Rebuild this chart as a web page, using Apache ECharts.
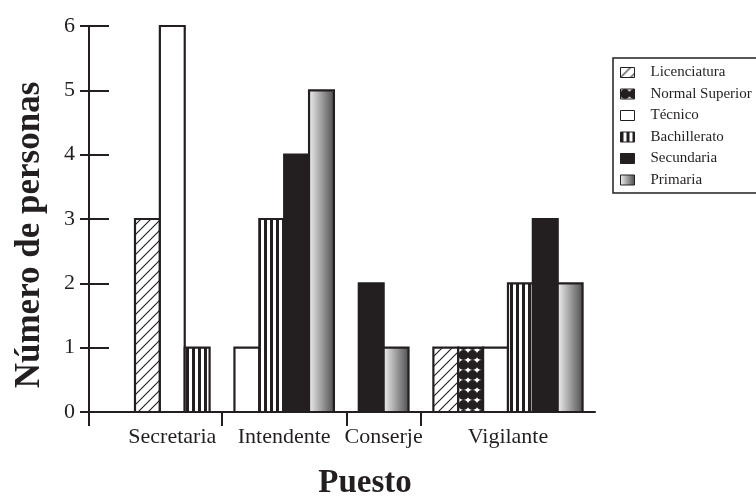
<!DOCTYPE html>
<html>
<head>
<meta charset="utf-8">
<script src="https://cdn.jsdelivr.net/npm/echarts@6/dist/echarts.min.js"></script>
<style>
  html, body { margin: 0; padding: 0; background: #fff; overflow: hidden; }
  #chart { width: 756px; height: 497px; }
</style>
</head>
<body>
<div id="chart"></div>
<script>
// Puestos (categorías del eje X) y niveles de escolaridad (series)
const categories = ['Secretaria', 'Intendente', 'Conserje', 'Vigilante'];
const levels = ['Licenciatura', 'Normal Superior', 'Técnico', 'Bachillerato', 'Secundaria', 'Primaria'];

// Número de personas por puesto, una lista por nivel
const licenciatura   = [3, 0, 0, 1];
const normalSuperior = [0, 0, 0, 1];
const tecnico        = [6, 1, 0, 1];
const bachillerato   = [1, 3, 0, 2];
const secundaria     = [0, 4, 2, 3];
const primaria       = [0, 5, 1, 2];

const yTicks = [0, 1, 2, 3, 4, 5, 6];

const valuesByLevel = [licenciatura, normalSuperior, tecnico, bachillerato, secundaria, primaria];

const INK = '#231f20';
const SERIF = '"Liberation Serif", "Times New Roman", serif';

// ---- fills ----
function makePattern(w, h, draw) {
  const c = document.createElement('canvas');
  c.width = w; c.height = h;
  const ctx = c.getContext('2d');
  ctx.fillStyle = '#fff';
  ctx.fillRect(0, 0, w, h);
  draw(ctx, w, h);
  return { image: c, repeat: 'repeat' };
}
const hatchFill = makePattern(10, 10, (ctx, w, h) => {
  ctx.strokeStyle = INK; ctx.lineWidth = 1.1;
  ctx.beginPath();
  ctx.moveTo(-1, h + 1); ctx.lineTo(w + 1, -1);
  ctx.moveTo(-2, 2); ctx.lineTo(2, -2);
  ctx.moveTo(w - 2, h + 2); ctx.lineTo(w + 2, h - 2);
  ctx.stroke();
});
const dotFill = makePattern(9, 10, (ctx, w, h) => {
  ctx.fillStyle = INK;
  ctx.beginPath();
  ctx.arc(w / 2, h / 2, 5, 0, Math.PI * 2);
  ctx.fill();
});
const stripeFill = makePattern(6, 6, (ctx, w, h) => {
  ctx.fillStyle = INK;
  ctx.fillRect(0, 0, 3, h);
});
const gradientFill = {
  type: 'linear', x: 0, y: 0, x2: 1, y2: 0,
  colorStops: [{ offset: 0, color: '#f4f4f4' }, { offset: 1, color: '#4a4a4c' }]
};
const fills = [hatchFill, dotFill, '#ffffff', stripeFill, INK, gradientFill];

// ---- layout: each puesto only holds its non-zero bars, one empty slot between groups ----
const LEAD = 2;        // empty slots before the first group
const GAP = 1;         // empty slots between groups
const slots = [];      // {level, x, value}
const groupStart = [], groupEnd = [];
let cursor = LEAD;
categories.forEach((cat, ci) => {
  if (ci > 0) cursor += GAP;
  groupStart.push(cursor);
  valuesByLevel.forEach((vals, li) => {
    if (vals[ci] > 0) {
      slots.push({ level: li, x: cursor, value: vals[ci] });
      cursor += 1;
    }
  });
  groupEnd.push(cursor);
});
const xMin = 0.15;
const xMax = cursor + 0.5;
const boundaries = [xMin];
for (let i = 1; i < categories.length; i++) boundaries.push((groupEnd[i - 1] + groupStart[i]) / 2);
const centers = categories.map((c, i) => (groupStart[i] + groupEnd[i]) / 2);
const labelAt = new Map(centers.map((v, i) => [v, categories[i]]));

const chart = echarts.init(document.getElementById('chart'), null, { renderer: 'canvas' });

chart.setOption({
  animation: false,
  backgroundColor: '#fff',
  grid: { left: 89, right: 161, top: 26, bottom: 85, containLabel: false },
  xAxis: {
    type: 'value', min: xMin, max: xMax,
    axisLine: { show: true, onZero: false, lineStyle: { color: INK, width: 2 } },
    axisTick: { show: true, length: 14, customValues: boundaries, lineStyle: { color: INK, width: 2 } },
    axisLabel: {
      customValues: centers,
      formatter: v => labelAt.get(v) || '',
      fontFamily: SERIF, fontSize: 22, color: INK, margin: 14
    },
    splitLine: { show: false }
  },
  yAxis: [{
    type: 'value', min: yTicks[0], max: yTicks[yTicks.length - 1], interval: 1,
    axisLine: { show: true, lineStyle: { color: INK, width: 2 } },
    axisTick: { show: true, length: 9, lineStyle: { color: INK, width: 2 } },
    axisLabel: { fontFamily: SERIF, fontSize: 22, color: INK, margin: 14, padding: [0, 0, 11, 0] },
    splitLine: { show: false }
  }, {
    type: 'value', min: yTicks[0], max: yTicks[yTicks.length - 1], interval: 1, position: 'left',
    axisLine: { show: false },
    axisTick: { show: true, inside: true, length: 20, lineStyle: { color: INK, width: 2 } },
    axisLabel: { show: false },
    splitLine: { show: false }
  }],
  legend: {
    orient: 'vertical', left: 613, top: 58,
    padding: [7, 0, 6, 7],
    borderWidth: 0,
    itemWidth: 14, itemHeight: 10, itemGap: 6.5,
    icon: 'rect', selectedMode: false,
    itemStyle: { borderColor: INK, borderWidth: 1 },
    textStyle: { fontFamily: SERIF, fontSize: 15, color: INK, padding: [0, 0, 0, 11] },
    data: levels
  },
  graphic: [{
    // legend frame, running past the right edge of the page
    type: 'rect', z: -1,
    shape: { x: 613, y: 58, width: 400, height: 135 },
    style: { fill: '#fff', stroke: INK, lineWidth: 1.5 }
  }, {
    type: 'text', x: 365, y: 483,
    style: { text: 'Puesto', fontFamily: SERIF, fontWeight: 'bold', fontSize: 33, fill: INK, align: 'center', verticalAlign: 'middle' }
  }, {
    type: 'text', x: 30, y: 235, rotation: Math.PI / 2,
    style: { text: 'Número de personas', fontFamily: SERIF, fontWeight: 'bold', fontSize: 35, fill: INK, align: 'center', verticalAlign: 'middle' }
  }],
  series: levels.map((name, li) => ({
    type: 'custom', name,
    xAxisIndex: 0, yAxisIndex: 0,
    itemStyle: { color: fills[li], borderColor: INK, borderWidth: 2.2 },
    encode: { x: 0, y: 1 },
    data: slots.filter(s => s.level === li).map(s => [s.x, s.value]),
    renderItem: (params, api) => {
      const x = api.value(0), v = api.value(1);
      const a = api.coord([x, 0]);
      const b = api.coord([x + 1, v]);
      return {
        type: 'rect',
        shape: { x: a[0], y: b[1], width: b[0] - a[0], height: a[1] - b[1] },
        style: api.style()
      };
    }
  }))
});
</script>
</body>
</html>
